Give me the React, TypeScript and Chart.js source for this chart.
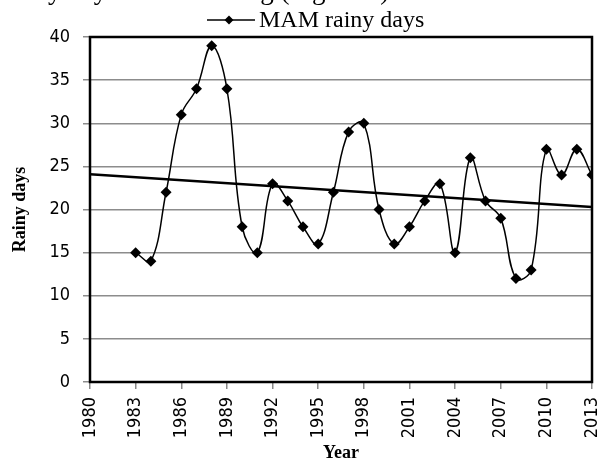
import React, { useEffect, useRef } from "react";
import { Chart, registerables } from "chart.js";

Chart.register(...registerables);

const years = [1983, 1984, 1985, 1986, 1987, 1988, 1989, 1990, 1991, 1992, 1993, 1994, 1995, 1996, 1997, 1998, 1999, 2000, 2001, 2002, 2003, 2004, 2005, 2006, 2007, 2008, 2009, 2010, 2011, 2012, 2013];
const rainyDays = [15, 14, 22, 31, 34, 39, 34, 18, 15, 23, 21, 18, 16, 22, 29, 30, 20, 16, 18, 21, 23, 15, 26, 21, 19, 12, 13, 27, 24, 27, 24];
const trendYears = [1980, 2013];
const trendValues = [24.1, 20.3];
const seriesLabel = "MAM rainy days";
const yTitle = "Rainy days";
const xTitle = "Year";
const caption = "rainy days was declining (Figure 3).";

export default function App() {
  const ref = useRef<HTMLCanvasElement | null>(null);
  useEffect(() => {
    if (!ref.current) return;
    const tickFont = { family: "'DejaVu Sans Condensed', 'Liberation Sans Narrow', sans-serif", size: 18 };
    const overlay = {
      id: "overlay",
      afterDraw(chart: any) {
        const ctx = chart.ctx;
        const a = chart.chartArea;
        ctx.save();
        ctx.strokeStyle = "#000";
        ctx.lineWidth = 2.5;
        ctx.strokeRect(a.left, a.top, a.right - a.left, a.bottom - a.top);
        // legend
        const ly = 20;
        ctx.lineWidth = 1.5;
        ctx.beginPath();
        ctx.moveTo(207, ly);
        ctx.lineTo(255, ly);
        ctx.stroke();
        ctx.fillStyle = "#000";
        ctx.beginPath();
        ctx.moveTo(229, ly - 4.5);
        ctx.lineTo(233.5, ly);
        ctx.lineTo(229, ly + 4.5);
        ctx.lineTo(224.5, ly);
        ctx.closePath();
        ctx.fill();
        ctx.font = "24px 'Liberation Serif', serif";
        ctx.textBaseline = "alphabetic";
        ctx.textAlign = "left";
        ctx.fillText(seriesLabel, 259, 27);
        ctx.font = "27px 'Liberation Serif', serif";
        ctx.fillText(caption, 6, -1);
        ctx.restore();
      },
    };
    const chart = new Chart(ref.current, {
      type: "line",
      data: {
        datasets: [
          {
            label: seriesLabel,
            data: years.map((y, i) => ({ x: y, y: rainyDays[i] })),
            borderColor: "#000",
            backgroundColor: "#000",
            borderWidth: 1.5,
            tension: 0.4,
            pointStyle: "rectRot",
            pointRadius: 5.5,
            pointBorderWidth: 0,
          },
          {
            label: "Trend",
            data: trendYears.map((y, i) => ({ x: y, y: trendValues[i] })),
            borderColor: "#000",
            borderWidth: 2.5,
            pointRadius: 0,
            tension: 0,
          },
        ],
      },
      options: {
        animation: false,
        responsive: false,
        layout: { padding: { top: 37, right: 6, left: 0, bottom: 0 } },
        plugins: { legend: { display: false }, tooltip: { enabled: false } },
        scales: {
          x: {
            type: "linear",
            min: 1980,
            max: 2013,
            afterFit: (s: any) => { s.height = 84; s.paddingLeft = 0; s.paddingRight = 0; },
            ticks: {
              stepSize: 3,
              maxRotation: 90,
              minRotation: 90,
              color: "#000",
              font: tickFont,
              padding: 8,
              callback: (v: any) => String(v),
            },
            grid: { drawOnChartArea: false, drawTicks: true, tickLength: 7, color: "#888", lineWidth: 1.5 },
            border: { display: false },
            title: { display: true, text: xTitle, color: "#000", padding: { top: 0, bottom: 2 }, font: { family: "'Liberation Serif', serif", size: 18, weight: "bold" } },
          },
          y: {
            min: 0,
            max: 40,
            afterFit: (s: any) => { s.width = 90; },
            ticks: { stepSize: 5, color: "#000", font: tickFont, padding: 13 },
            grid: { color: "#8c8c8c", lineWidth: 1.5, tickLength: 7 },
            border: { display: false },
            title: { display: true, text: yTitle, color: "#000", padding: { top: 10, bottom: 0 }, font: { family: "'Liberation Serif', serif", size: 18, weight: "bold" } },
          },
        },
      },
      plugins: [overlay],
    });
    return () => chart.destroy();
  }, []);
  return (
    <div style={{ position: "fixed", left: 0, top: 0, width: 598, height: 466, background: "#fff" }}>
      <canvas ref={ref} width={598} height={466} style={{ display: "block" }} />
    </div>
  );
}
